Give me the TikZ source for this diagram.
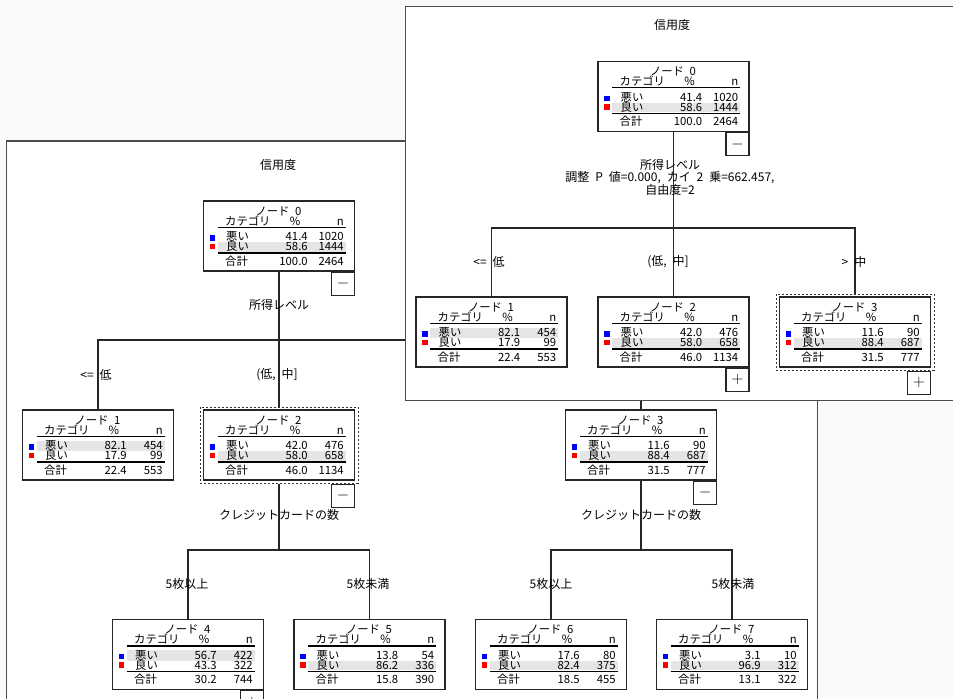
\documentclass[tikz,border=0pt]{standalone}
\usepackage{fontspec}
\newfontfamily\jpfont[WordSpace=2.2]{Noto Sans CJK JP}
\usepackage{tikz}

\tikzset{
  every node/.style={font=\jpfont\fontsize{9}{11}\selectfont, inner sep=0pt},
  celltext/.style={font=\jpfont\fontsize{8.5}{10}\selectfont},
  framebox/.style={fill=white, draw=black!70, line width=1.1pt},
  treebox/.style={draw=black!85, line width=0.8pt, minimum width=113.25pt, minimum height=52.5pt},
  selbox/.style={draw=black!80, line width=0.75pt, dash pattern=on 1.5pt off 1.5pt, minimum width=118.5pt, minimum height=57pt},
  togglebox/.style={draw=black!85, line width=0.8pt, minimum size=17.25pt, font=\fontsize{13}{13}\selectfont},
  link/.style={draw=black!85, line width=0.8pt},
  tabrule/.style={line width=0.8pt},
  rowgray/.style={fill=black!10},
  badblue/.style={fill=blue},
  goodred/.style={fill=red},
}

\newcommand{\cattable}[9]{%
  \node[treebox] (#1) at (#2) {};
  \begin{scope}[shift={(#1.north west)}, every node/.append style={celltext}]
    \ifdim #4pt>#6pt
      \fill[rowgray] (15,31.5) rectangle (143,42);
    \else
      \fill[rowgray] (15,42) rectangle (143,51.5);
    \fi
    \draw[tabrule] (15,27) -- (143,27) (15,52.5) -- (143,52.5);
    \fill[badblue] (7,35) rectangle (12.5,40.5);
    \fill[goodred] (7,43.5) rectangle (12.5,49);
    \node[anchor=base] (#1-id) at (75.5,15) {ノード #3};
    \node[anchor=base west] (#1-cat) at (22,25) {カテゴリ};
    \node[anchor=base] (#1-pct) at (92,25) {\%};
    \node[anchor=base east] (#1-n) at (141,25) {n};
    \node[anchor=base west] (#1-bad) at (23,40.5) {悪い};
    \node[anchor=base east] (#1-badp) at (105,40.5) {#4};
    \node[anchor=base east] (#1-badn) at (141,40.5) {#5};
    \node[anchor=base west] (#1-good) at (23,50.5) {良い};
    \node[anchor=base east] (#1-goodp) at (105,50.5) {#6};
    \node[anchor=base east] (#1-goodn) at (141,50.5) {#7};
    \node[anchor=base west] (#1-tot) at (22,65) {合計};
    \node[anchor=base east] (#1-totp) at (105,65) {#8};
    \node[anchor=base east] (#1-totn) at (141,65) {#9};
  \end{scope}}

\begin{document}
\begin{tikzpicture}[x=0.75pt,y=0.75pt,yscale=-1,xscale=1]

\useasboundingbox (0,0) rectangle (953,699);
\clip (0,0) rectangle (953,699);
\fill[black!2] (0,0) rectangle (953,699);

\filldraw[framebox] (6.5,141) rectangle (817.5,720);

\node (btitle) at (278,165) {信用度};
\cattable{b0}{279,236}{0}{41.4}{1020}{58.6}{1444}{100.0}{2464}
\cattable{b1}{98,445}{1}{82.1}{454}{17.9}{99}{22.4}{553}
\cattable{b2}{279,445}{2}{42.0}{476}{58.0}{658}{46.0}{1134}
\cattable{b3}{641,445}{3}{11.6}{90}{88.4}{687}{31.5}{777}
\cattable{b4}{188,654.5}{4}{56.7}{422}{43.3}{322}{30.2}{744}
\cattable{b5}{369.5,654.5}{5}{13.8}{54}{86.2}{336}{15.8}{390}
\cattable{b6}{551,654.5}{6}{17.6}{80}{82.4}{375}{18.5}{455}
\cattable{b7}{732,654.5}{7}{3.1}{10}{96.9}{312}{13.1}{322}
\node[selbox] (b2sel) at (b2) {};

\node[togglebox, anchor=north east] (b0tog) at (b0.south east) {$-$};
\node[togglebox, anchor=north east] (b2tog) at (b2.east |- b2sel.south) {$-$};
\node[togglebox, anchor=north east] (b3tog) at (b3.south east) {$-$};
\node[togglebox, anchor=north east] (b4tog) at (b4.south east) {$+$};

\coordinate (bbar) at (0,340);
\coordinate (bbar2) at (0,550);
\draw[link] (b0.south) -- (b2sel.north);
\draw[link] (b1.north) -- (b1.north |- bbar) -- (b3.north |- bbar) -- (b3.north);
\draw[link] (b2sel.south) -- (b2sel.south |- bbar2);
\draw[link] (b4.north) -- (b4.north |- bbar2) -- (b5.north |- bbar2) -- (b5.north);
\draw[link] (b3.south) -- (b3.south |- bbar2);
\draw[link] (b6.north) -- (b6.north |- bbar2) -- (b7.north |- bbar2) -- (b7.north);

\node (bsplit) at (279,305) {所得レベル};
\node (bl1) at (96,375) {<= 低};
\node (bl2) at (277,375) {(低, 中]};
\node (bsplit2) at (279,515) {クレジットカードの数};
\node (bl4) at (187,584) {5枚以上};
\node (bl5) at (368,584) {5枚未満};
\node (bsplit3) at (641,515) {クレジットカードの数};
\node (bl6) at (551,584) {5枚以上};
\node (bl7) at (733,584) {5枚未満};

\filldraw[framebox] (405.5,6.5) rectangle (970,400.5);

\node (ftitle) at (672,25) {信用度};
\cattable{f0}{673.5,96.5}{0}{41.4}{1020}{58.6}{1444}{100.0}{2464}
\cattable{f1}{491.5,332}{1}{82.1}{454}{17.9}{99}{22.4}{553}
\cattable{f2}{673.5,332}{2}{42.0}{476}{58.0}{658}{46.0}{1134}
\cattable{f3}{855,332}{3}{11.6}{90}{88.4}{687}{31.5}{777}
\node[selbox] (f3sel) at (f3) {};

\node[togglebox, anchor=north east] (f0tog) at (f0.south east) {$-$};
\node[togglebox, anchor=north east] (f2tog) at (f2.south east) {$+$};
\node[togglebox, anchor=north east] (f3tog) at (f3.east |- f3sel.south) {$+$};

\coordinate (fbar) at (0,228);
\draw[link] (f0.south) -- (f2.north);
\draw[link] (f1.north) -- (f1.north |- fbar) -- (f3sel.north |- fbar) -- (f3sel.north);

\node[align=center, font=\jpfont\fontsize{9}{9.4}\selectfont] (fsplit) at (670,177) {所得レベル\\調整 P 値=0.000, カイ 2 乗=662.457,\\自由度=2};
\node (fl1) at (489,262) {<= 低};
\node (fl2) at (668,262) {(低, 中]};
\node (fl3) at (854,262) {> 中};

\end{tikzpicture}
\end{document}
